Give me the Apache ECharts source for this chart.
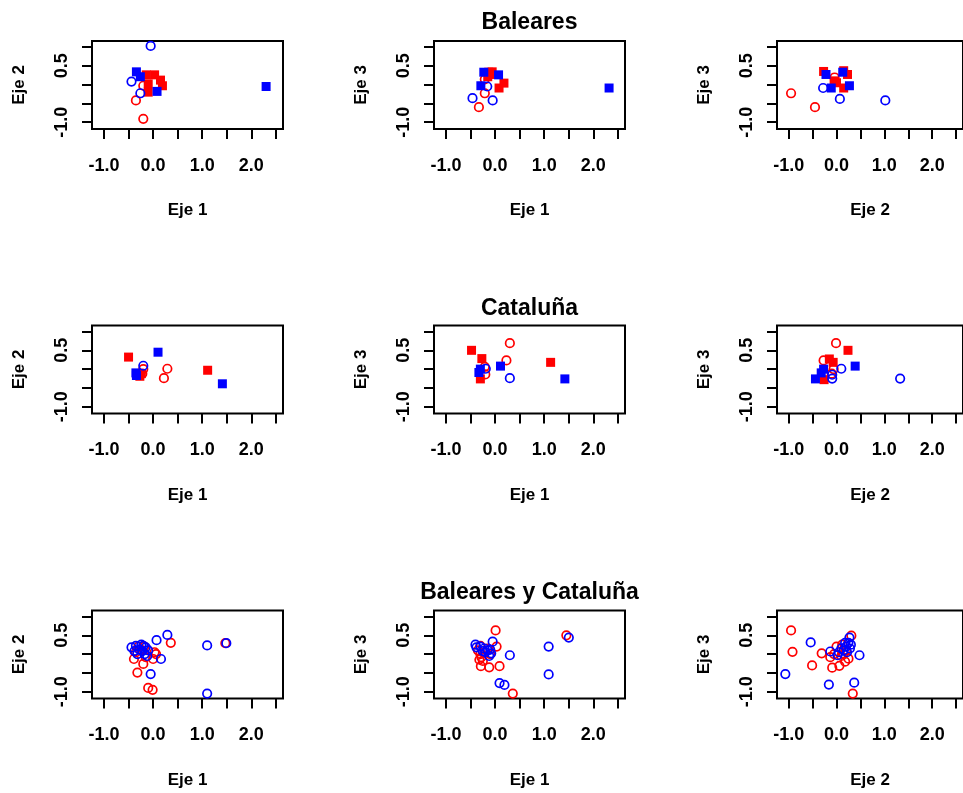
<!DOCTYPE html>
<html>
<head>
<meta charset="utf-8">
<script src="https://cdn.jsdelivr.net/npm/echarts@6/dist/echarts.min.js"></script>
<style>
html,body{margin:0;padding:0;background:#fff;}
#chart{width:963px;height:793px;}
</style>
</head>
<body>
<div id="chart"></div>
<script>
// ---- tick / label values ----
const xTicks = [-1, -0.5, 0, 0.5, 1, 1.5, 2, 2.5];
const xTickLabels = [-1, 0, 1, 2];
const yTicks = [-1, -0.5, 0, 0.5, 1];
const yTickLabels = [-1, 0.5];
const rowTitles = ['Baleares', 'Cataluña', 'Baleares y Cataluña'];
const xNames = ['Eje 1', 'Eje 1', 'Eje 2'];
const yNames = ['Eje 2', 'Eje 3', 'Eje 3'];

// ---- Baleares ----
const balE1E2RedSq  = [[-0.14,0.26],[0.03,0.26],[0.15,0.12],[0.19,-0.03],[-0.10,0.02],[-0.10,-0.20]];
const balE1E2RedCi  = [[-0.20,-0.03],[-0.35,-0.42],[-0.20,-0.91]];
const balE1E2BlueSq = [[-0.34,0.34],[-0.26,0.21],[0.08,-0.18],[2.30,-0.05]];
const balE1E2BlueCi = [[-0.05,1.03],[-0.44,0.08],[-0.26,-0.23]];

const balE1E3RedSq  = [[-0.13,0.33],[-0.06,0.34],[-0.15,0.21],[-0.10,0.27],[0.18,0.04],[0.08,-0.09]];
const balE1E3RedCi  = [[-0.21,0.14],[-0.21,-0.23],[-0.33,-0.60]];
const balE1E3BlueSq = [[-0.23,0.33],[0.07,0.26],[-0.29,-0.03],[2.32,-0.09]];
const balE1E3BlueCi = [[-0.16,-0.05],[-0.46,-0.36],[-0.05,-0.42]];

const balE2E3RedSq  = [[-0.27,0.35],[0.15,0.37],[0.23,0.27],[-0.05,0.10],[0.00,0.05],[0.15,-0.09]];
const balE2E3RedCi  = [[-0.95,-0.23],[-0.45,-0.60],[-0.04,0.19]];
const balE2E3BlueSq = [[-0.22,0.27],[0.13,0.33],[-0.11,-0.09],[0.27,-0.03]];
const balE2E3BlueCi = [[-0.28,-0.09],[0.07,-0.38],[1.02,-0.42]];

// ---- Cataluña ----
const catE1E2RedSq  = [[-0.50,0.32],[-0.27,-0.19],[-0.24,-0.12],[1.11,-0.03]];
const catE1E2RedCi  = [[0.29,0.01],[0.22,-0.24],[-0.20,0.00],[-0.22,-0.12]];
const catE1E2BlueSq = [[0.10,0.45],[-0.34,-0.17],[-0.35,-0.10],[1.41,-0.39]];
const catE1E2BlueCi = [[-0.20,0.09]];

const catE1E3RedSq  = [[-0.48,0.50],[-0.27,0.28],[-0.30,-0.26],[1.13,0.18]];
const catE1E3RedCi  = [[0.30,0.69],[0.23,0.23],[-0.21,0.06],[-0.20,-0.14]];
const catE1E3BlueSq = [[0.11,0.08],[1.42,-0.26],[-0.33,-0.09],[-0.30,0.00]];
const catE1E3BlueCi = [[0.30,-0.24],[-0.19,0.01]];

const catE2E3RedSq  = [[0.24,0.50],[-0.15,0.27],[-0.07,0.18],[-0.26,-0.28]];
const catE2E3RedCi  = [[-0.01,0.69],[-0.27,0.23],[-0.06,0.00],[-0.10,-0.12]];
const catE2E3BlueSq = [[0.39,0.08],[-0.44,-0.26],[-0.32,-0.10],[-0.27,0.00]];
const catE2E3BlueCi = [[1.33,-0.25],[0.10,0.01],[-0.09,-0.15],[-0.09,-0.25]];

// ---- Baleares y Cataluña ----
const bcE1E2Red  = [[0.36,0.30],[1.47,0.29],[-0.10,-0.90],[-0.01,-0.95],[-0.32,-0.49],[-0.39,-0.13],[-0.20,-0.26],[0.03,0.05],[0.06,0.00],[0.00,-0.13],[-0.30,0.20],[-0.25,0.12],[-0.18,0.20],[-0.35,0.05],[-0.15,-0.08]];
const bcE1E2Blue = [[0.29,0.51],[0.07,0.37],[1.10,0.23],[1.49,0.29],[1.10,-1.05],[-0.05,-0.53],[0.16,-0.13],[-0.44,0.18],[-0.35,0.22],[-0.24,0.25],[-0.20,0.22],[-0.15,0.18],[-0.17,0.00],[-0.32,0.00],[-0.38,0.08],[-0.28,0.12],[-0.22,0.08],[-0.10,0.10],[-0.12,-0.05]];

const bcE1E3Red  = [[0.01,0.63],[1.45,0.50],[0.03,0.20],[0.09,-0.32],[-0.12,-0.35],[-0.29,-0.32],[0.36,-1.05],[-0.35,0.10],[-0.30,0.00],[-0.28,-0.08],[-0.32,-0.15],[-0.25,-0.18],[-0.20,0.05],[-0.15,0.15],[-0.10,0.00],[-0.30,0.22]];
const bcE1E3Blue = [[1.50,0.44],[1.09,0.20],[1.09,-0.54],[0.30,-0.03],[0.09,-0.77],[0.19,-0.82],[-0.05,0.33],[-0.40,0.25],[-0.38,0.18],[-0.30,0.20],[-0.22,0.15],[-0.15,0.10],[-0.20,0.05],[-0.10,0.12],[-0.12,-0.05],[-0.25,0.08],[-0.08,0.02]];

const bcE2E3Red  = [[-0.95,0.63],[-0.92,0.06],[-0.51,-0.30],[-0.31,0.02],[0.34,-1.05],[-0.09,-0.36],[0.06,-0.31],[-0.13,-0.08],[0.31,0.49],[0.00,0.20],[0.12,0.25],[0.20,0.10],[0.25,-0.12],[0.18,-0.20],[0.10,-0.05],[-0.05,0.00],[0.15,0.00]];
const bcE2E3Blue = [[-1.07,-0.53],[-0.54,0.31],[-0.16,-0.81],[0.37,-0.76],[0.48,-0.03],[0.27,0.44],[-0.13,0.07],[0.25,0.30],[0.20,0.20],[0.28,0.15],[0.15,0.10],[0.10,0.15],[0.05,0.05],[0.22,0.05],[0.30,0.25],[0.18,0.30],[0.02,-0.03]];

// ---- panel setup ----
const RED = '#ff0000', BLUE = '#0000ff';
const panels = [
  [balE1E2RedSq, balE1E2RedCi, balE1E2BlueSq, balE1E2BlueCi],
  [balE1E3RedSq, balE1E3RedCi, balE1E3BlueSq, balE1E3BlueCi],
  [balE2E3RedSq, balE2E3RedCi, balE2E3BlueSq, balE2E3BlueCi],
  [catE1E2RedSq, catE1E2RedCi, catE1E2BlueSq, catE1E2BlueCi],
  [catE1E3RedSq, catE1E3RedCi, catE1E3BlueSq, catE1E3BlueCi],
  [catE2E3RedSq, catE2E3RedCi, catE2E3BlueSq, catE2E3BlueCi],
  [null, bcE1E2Red, null, bcE1E2Blue],
  [null, bcE1E3Red, null, bcE1E3Blue],
  [null, bcE2E3Red, null, bcE2E3Blue]
];

const FONT = "'Liberation Sans', Arial, sans-serif";
const colLeft = [92, 434, 777];
const rowTop = [41, 325.5, 610.5];
const W = 191, H = 88;
const X_MIN = -1.244, X_MAX = 2.644, Y_MIN = -1.18, Y_MAX = 1.16;

const grids = [], xAxes = [], yAxes = [], series = [], titles = [];
const titleTops = [11, 297, 581];
rowTitles.forEach((t, r) => {
  titles.push({
    text: t, left: colLeft[1] + W / 2, top: titleTops[r], textAlign: 'center', padding: 0,
    textStyle: {fontFamily: FONT, fontWeight: 'bold', fontSize: 23, color: '#000'}
  });
});

for (let i = 0; i < 9; i++) {
  const r = Math.floor(i / 3), c = i % 3;
  grids.push({left: colLeft[c], top: rowTop[r], width: W, height: H, show: true,
    borderColor: '#000', borderWidth: 2, backgroundColor: 'transparent', containLabel: false});
  xAxes.push({
    gridIndex: i, type: 'value', min: X_MIN, max: X_MAX, position: 'bottom',
    name: xNames[c], nameLocation: 'middle', nameGap: 73,
    nameTextStyle: {fontFamily: FONT, fontWeight: 'bold', fontSize: 17, color: '#000'},
    axisLine: {show: false, onZero: false},
    axisTick: {show: true, length: 10, lineStyle: {color: '#000', width: 2}, customValues: xTicks},
    axisLabel: {show: true, margin: 28, customValues: xTickLabels,
      formatter: v => Number(v).toFixed(1),
      fontFamily: FONT, fontWeight: 'bold', fontSize: 18, color: '#000'},
    splitLine: {show: false}
  });
  yAxes.push({
    gridIndex: i, type: 'value', min: Y_MIN, max: Y_MAX, position: 'left',
    name: yNames[c], nameLocation: 'middle', nameGap: 64, nameRotate: 90,
    nameTextStyle: {fontFamily: FONT, fontWeight: 'bold', fontSize: 17, color: '#000'},
    axisLine: {show: false, onZero: false},
    axisTick: {show: true, length: 10, lineStyle: {color: '#000', width: 2}, customValues: yTicks},
    axisLabel: {show: true, margin: 21, rotate: 90, customValues: yTickLabels,
      formatter: v => Number(v).toFixed(1),
      fontFamily: FONT, fontWeight: 'bold', fontSize: 18, color: '#000'},
    splitLine: {show: false}
  });
  const [redSq, redCi, blueSq, blueCi] = panels[i];
  const add = (data, color, filled) => {
    if (!data) return;
    series.push({
      type: 'scatter', xAxisIndex: i, yAxisIndex: i, data: data,
      symbol: filled ? 'rect' : 'circle', symbolSize: filled ? 9 : 8.5, silent: true,
      itemStyle: filled ? {color: color, opacity: 1}
                        : {color: 'rgba(0,0,0,0)', borderColor: color, borderWidth: 1.7, opacity: 1}
    });
  };
  add(redSq, RED, true);
  add(redCi, RED, false);
  add(blueSq, BLUE, true);
  add(blueCi, BLUE, false);
}

const chart = echarts.init(document.getElementById('chart'), null, {renderer: 'canvas'});
chart.setOption({
  animation: false,
  backgroundColor: '#fff',
  title: titles,
  grid: grids,
  xAxis: xAxes,
  yAxis: yAxes,
  series: series
});
</script>
</body>
</html>
